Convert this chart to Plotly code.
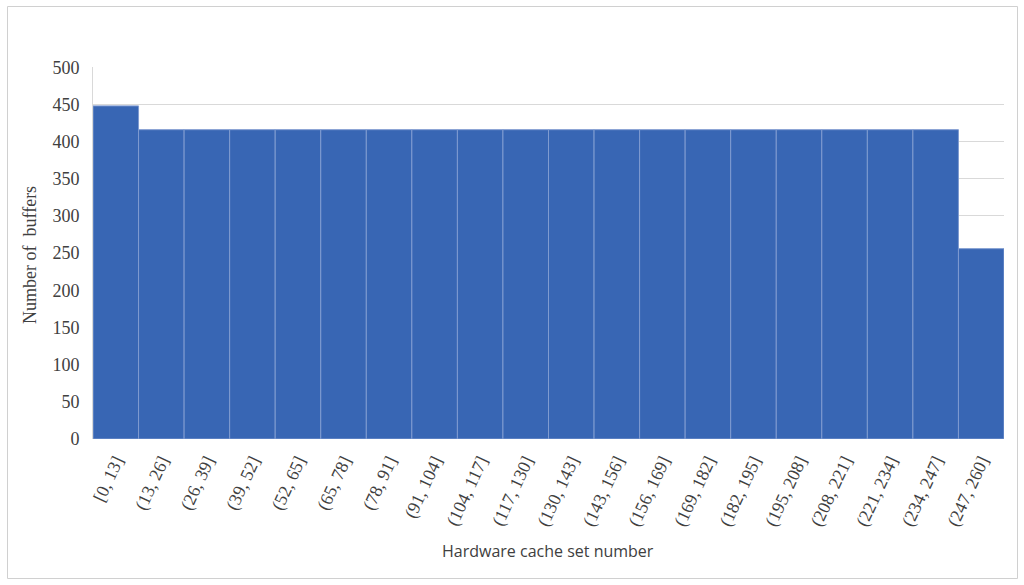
import plotly.graph_objects as go

categories = ["[0, 13]", "(13, 26]", "(26, 39]", "(39, 52]", "(52, 65]", "(65, 78]",
              "(78, 91]", "(91, 104]", "(104, 117]", "(117, 130]", "(130, 143]",
              "(143, 156]", "(156, 169]", "(169, 182]", "(182, 195]", "(195, 208]",
              "(208, 221]", "(221, 234]", "(234, 247]", "(247, 260]"]
values = [448, 416, 416, 416, 416, 416, 416, 416, 416, 416, 416,
          416, 416, 416, 416, 416, 416, 416, 416, 256]
y_ticks = [0, 50, 100, 150, 200, 250, 300, 350, 400, 450, 500]

W, H = 1024, 585
# plot area in page pixels: x 93..1004, y 67..439
L, T = 93, 67
R = W - 1004
B = H - 439
pw, ph = W - L - R, H - T - B

def px_x(px):
    return (px - L) / pw

def px_y(py):
    return (H - B - py) / ph

fig = go.Figure(go.Bar(
    x=categories, y=values,
    marker=dict(color="#3866B4", line=dict(color="#7F9BD0", width=1)),
    hoverinfo="skip",
))

fig.add_shape(type="rect", xref="paper", yref="paper",
              x0=px_x(7.5), x1=px_x(1017.5), y0=px_y(578.5), y1=px_y(6.5),
              line=dict(color="#D0D0D0", width=1), fillcolor="rgba(0,0,0,0)", layer="below")

fig.add_annotation(text="Hardware cache set number", xref="paper", yref="paper",
                   x=px_x(548), y=px_y(551), showarrow=False,
                   xanchor="center", yanchor="middle",
                   font=dict(family="Open Sans", size=16, color="#404040"))

fig.add_annotation(text="Number of  buffers", xref="paper", yref="paper",
                   x=px_x(30), y=px_y(255), showarrow=False, textangle=-90,
                   xanchor="center", yanchor="middle",
                   font=dict(family="Liberation Serif", size=18, color="#404040"))

fig.update_layout(
    width=W, height=H,
    margin=dict(l=L, r=R, t=T, b=B, autoexpand=False),
    paper_bgcolor="white", plot_bgcolor="white",
    bargap=0, showlegend=False,
    font=dict(family="Liberation Serif", size=18, color="#404040"),
    xaxis=dict(
        type="category", range=[-0.5, 19.5], tickangle=-65,
        tickfont=dict(family="Liberation Serif", size=18, color="#404040"),
        showgrid=False, ticks="", showline=False, ticklabelstandoff=7,
    ),
    yaxis=dict(
        range=[0, 500.3], tickvals=y_ticks,
        tickfont=dict(family="Liberation Serif", size=18, color="#404040"),
        showgrid=True, gridcolor="#D9D9D9", gridwidth=1, zeroline=False,
        ticks="", showline=True, linecolor="#D9D9D9", linewidth=1,
        ticklabelstandoff=9,
    ),
)

fig.write_html("out.html", config={"displayModeBar": False, "staticPlot": True},
               post_script="document.body.style.margin='0';document.body.style.overflow='hidden';")
